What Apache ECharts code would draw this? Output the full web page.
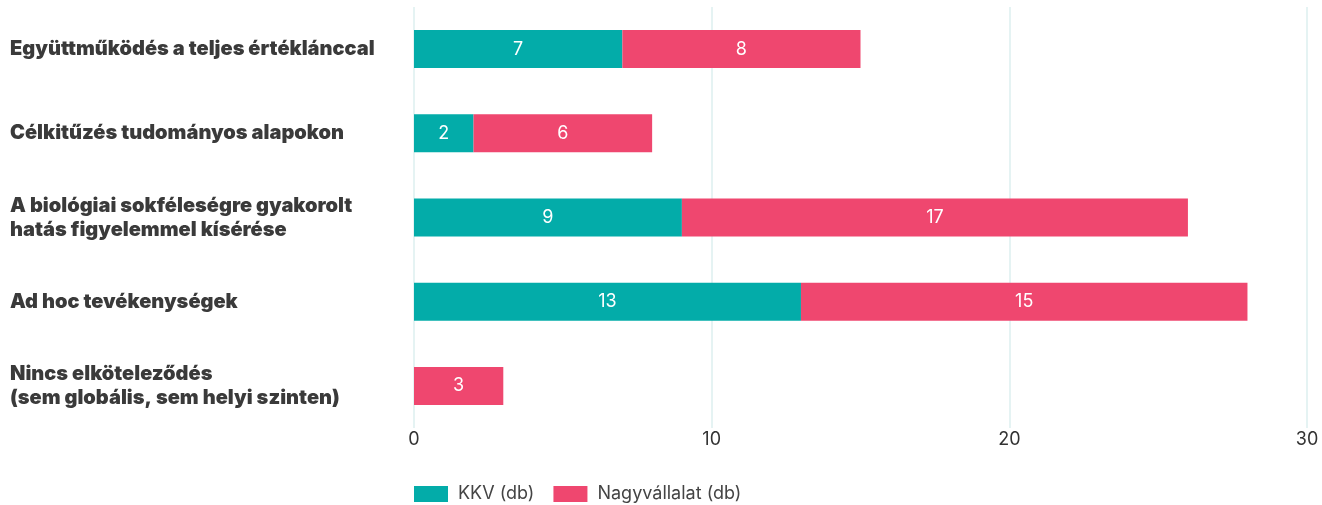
<!DOCTYPE html>
<html>
<head>
<meta charset="utf-8">
<script src="https://cdn.jsdelivr.net/npm/echarts@6/dist/echarts.min.js"></script>
<style>
  html, body { margin: 0; padding: 0; background: #fff; }
  #container { width: 1322px; height: 505px; }
</style>
</head>
<body>
<div id="container"></div>
<script>
var categories = [
    "Együttműködés a teljes értéklánccal",
    "Célkitűzés tudományos alapokon",
    "A biológiai sokféleségre gyakorolt\nhatás figyelemmel kísérése",
    "Ad hoc tevékenységek",
    "Nincs elköteleződés\n(sem globális, sem helyi szinten)"
];
var kkv = [7, 2, 9, 13, 0];
var nagyvallalat = [8, 6, 17, 15, 3];

var teal = "#03aca9";
var pink = "#ef476f";
var font = "Inter, 'Noto Sans', sans-serif";

var chart = echarts.init(document.getElementById("container"), null, { renderer: "canvas" });

// zero values get no label
function barLabel(p) {
    return p.value ? String(p.value) : "";
}

chart.setOption({
    animation: false,
    grid: { left: 414, right: 15, top: 7, bottom: 77 },
    legend: {
        left: 409,
        top: 480,
        itemWidth: 34,
        itemHeight: 16,
        itemGap: 19,
        icon: "rect",
        textStyle: { fontFamily: font, fontSize: 18, color: "#444", padding: [0, 0, 0, 5] },
        data: ["KKV (db)", "Nagyvállalat (db)"]
    },
    xAxis: {
        type: "value",
        min: 0,
        max: 30,
        interval: 10,
        axisLine: { show: false },
        axisTick: { show: false },
        splitLine: { lineStyle: { color: "#dcefef", width: 1.5 } },
        axisLabel: { fontFamily: font, fontSize: 18, color: "#333", margin: 3 }
    },
    yAxis: {
        type: "category",
        inverse: true,
        data: categories,
        axisLine: { show: false },
        axisTick: { show: false },
        axisLabel: {
            align: "left",
            margin: 404,
            fontFamily: font,
            fontWeight: 900,
            fontSize: 20,
            lineHeight: 24,
            color: "#3a3a3a"
        }
    },
    series: [
        {
            name: "KKV (db)",
            type: "bar",
            stack: "total",
            barWidth: 38,
            data: kkv,
            itemStyle: { color: teal },
            label: { show: true, position: "inside", color: "#fff", fontFamily: font, fontSize: 18, formatter: barLabel }
        },
        {
            name: "Nagyvállalat (db)",
            type: "bar",
            stack: "total",
            barWidth: 38,
            data: nagyvallalat,
            itemStyle: { color: pink },
            label: { show: true, position: "inside", color: "#fff", fontFamily: font, fontSize: 18, formatter: barLabel }
        }
    ]
});
</script>
</body>
</html>
